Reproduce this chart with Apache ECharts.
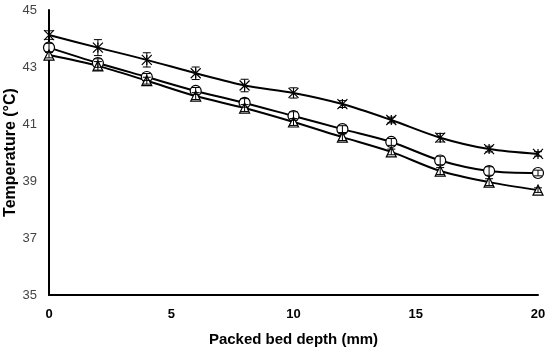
<!DOCTYPE html>
<html><head><meta charset="utf-8">
<script src="https://cdn.jsdelivr.net/npm/echarts@6/dist/echarts.min.js"></script>
<style>html,body{margin:0;padding:0;background:#fff}#c{width:550px;height:354px}</style>
</head><body><div id="c"></div>
<script>
const depth = [0, 2, 4, 6, 8, 10, 12, 14, 16, 18, 20];
const starVals = [44.12, 43.68, 43.25, 42.78, 42.35, 42.09, 41.70, 41.14, 40.52, 40.12, 39.95];
const starErr  = [0.15, 0.28, 0.25, 0.22, 0.22, 0.18, 0.12, 0.10, 0.15, 0.10, 0.08];
const circVals = [43.68, 43.14, 42.65, 42.16, 41.74, 41.28, 40.82, 40.37, 39.72, 39.35, 39.28];
const circErr  = [0.15, 0.15, 0.12, 0.12, 0.15, 0.15, 0.12, 0.12, 0.15, 0.15, 0.10];
const triVals  = [43.42, 43.04, 42.52, 41.98, 41.56, 41.07, 40.54, 40.02, 39.35, 38.96, 38.68];
const triErr   = [0.10, 0.15, 0.12, 0.12, 0.12, 0.12, 0.12, 0.10, 0.12, 0.12, 0.08];
const xTicks = [0, 5, 10, 15, 20];
const yTicks = [35, 37, 39, 41, 43, 45];

const FONT = 'Liberation Sans';
const starPath = 'path://M0,0L10,10M10,0L0,10M5,0L5,10';

function lineSeries(vals, symbol, size) {
  return {
    type: 'line', smooth: 0.3, data: depth.map((d, i) => [d, vals[i]]),
    symbol: symbol, symbolSize: size, showAllSymbol: true,
    lineStyle: { color: '#000', width: 2 },
    itemStyle: { color: '#fff', borderColor: '#000', borderWidth: 1.2 },
    z: 3
  };
}
function errSeries(vals, errs) {
  return {
    type: 'custom',
    data: depth.map((d, i) => [d, vals[i] - errs[i], vals[i] + errs[i]]),
    renderItem: function (params, api) {
      const lo = api.coord([api.value(0), api.value(1)]);
      const hi = api.coord([api.value(0), api.value(2)]);
      const w = 4;
      const st = { stroke: '#000', lineWidth: 1 };
      return { type: 'group', children: [
        { type: 'line', shape: { x1: lo[0], y1: lo[1], x2: hi[0], y2: hi[1] }, style: st },
        { type: 'line', shape: { x1: lo[0] - w, y1: lo[1], x2: lo[0] + w, y2: lo[1] }, style: st },
        { type: 'line', shape: { x1: hi[0] - w, y1: hi[1], x2: hi[0] + w, y2: hi[1] }, style: st }
      ]};
    },
    z: 4
  };
}

const chart = echarts.init(document.getElementById('c'));
chart.setOption({
  animation: false,
  grid: { left: 49, right: 12, top: 10, bottom: 59, outerBoundsMode: 'none', containLabel: false },
  xAxis: {
    type: 'value', min: 0, max: 20,
    name: 'Packed bed depth (mm)', nameLocation: 'middle', nameGap: 37, nameMoveOverlap: false,
    nameTextStyle: { fontFamily: FONT, fontSize: 15, fontWeight: 'bold', color: '#000' },
    axisLine: { show: true, lineStyle: { color: '#000', width: 2 } },
    axisTick: { show: false },
    splitLine: { show: false },
    axisLabel: { customValues: xTicks, fontFamily: FONT, fontSize: 13, fontWeight: 'bold', color: '#000', margin: 13 }
  },
  yAxis: {
    type: 'value', min: 35, max: 45,
    name: 'Temperature (°C)', nameLocation: 'middle', nameGap: 30, nameMoveOverlap: false,
    nameTextStyle: { fontFamily: FONT, fontSize: 16, fontWeight: 'bold', color: '#000' },
    axisLine: { show: true, lineStyle: { color: '#000', width: 2 } },
    axisTick: { show: false },
    splitLine: { show: false },
    axisLabel: { customValues: yTicks, fontFamily: FONT, fontSize: 13, color: '#444', margin: 12 }
  },
  series: [
    lineSeries(starVals, starPath, 10),
    errSeries(starVals, starErr),
    lineSeries(circVals, 'circle', 11),
    errSeries(circVals, circErr),
    lineSeries(triVals, 'triangle', 10),
    errSeries(triVals, triErr)
  ]
});
</script></body></html>
